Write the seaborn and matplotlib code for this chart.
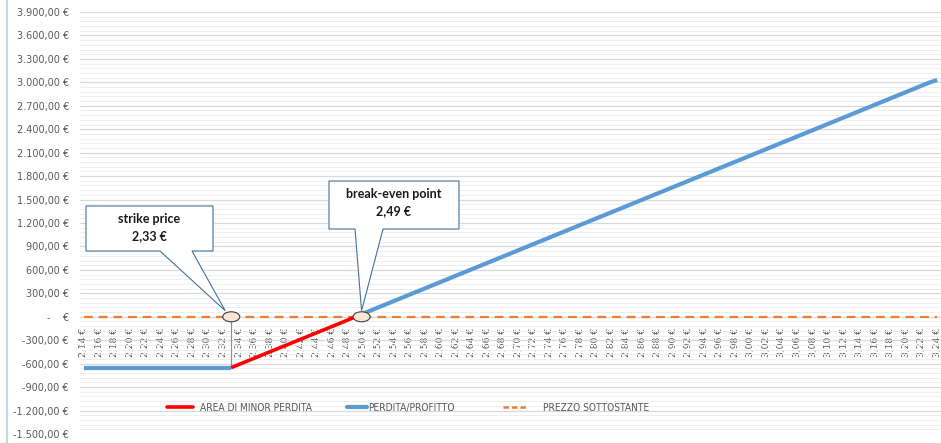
import numpy as np
import pandas as pd
import matplotlib
matplotlib.use("Agg")
import matplotlib.pyplot as plt
import seaborn as sns
from matplotlib.patches import Ellipse, Polygon
from matplotlib.lines import Line2D
from matplotlib.transforms import Affine2D
from matplotlib.ticker import MultipleLocator, FuncFormatter, FixedLocator

# ---------------- data ----------------
prices = np.round(np.arange(2.14, 3.245, 0.01), 2)   # category axis 2,14 € ... 3,24 €
profit = ([-650] * 20 +
          [-610, -569, -529, -488, -448, -407, -367, -326, -286, -245, -205, -164, -124, -83, -43] +
          [0, 41, 81, 122, 162, 203, 243, 284, 324, 365,
           405, 446, 486, 527, 567, 608, 648, 689, 729, 770,
           810, 851, 891, 932, 972, 1013, 1053, 1094, 1134, 1175,
           1215, 1256, 1296, 1337, 1377, 1418, 1458, 1499, 1539, 1580,
           1620, 1661, 1701, 1742, 1782, 1823, 1863, 1904, 1944, 1985,
           2025, 2066, 2106, 2147, 2187, 2228, 2268, 2309, 2349, 2390,
           2430, 2471, 2511, 2552, 2592, 2633, 2673, 2714, 2754, 2795,
           2835, 2876, 2916, 2957, 2997, 3030])
underlying = [0] * len(prices)
strike = 2.33
breakeven = 2.49
breakeven_marker = 2.498
series_names = ["AREA DI MINOR PERDITA", "PERDITA/PROFITTO", "PREZZO SOTTOSTANTE"]
callout_texts = [("strike price", "2,33 €"), ("break-even point", "2,49 €")]

# ---------------- styling ----------------
W, H = 941, 443
sns.set_theme(style="white")
plt.rcParams["font.family"] = ["DejaVu Sans"]
TXT = "#595959"
BLUE = "#5B9BD5"
RED = "#FF0000"
ORANGE = "#ED7D31"

fig = plt.figure(figsize=(W / 100, H / 100), dpi=100)
fig.patch.set_facecolor("white")
ax = fig.add_axes([80 / W, (H - 434) / H, (W - 80) / W, (434 - 12) / H])
ax.set_facecolor("white")

df = pd.DataFrame({"price": prices, "profit": profit, "under": underlying})
df["idx"] = np.arange(len(df))
i_strike = int(np.argmin(np.abs(prices - strike)))
i_be = int(np.argmin(np.abs(prices - breakeven)))

# grid
ax.set_ylim(-1500, 3900)
ax.set_xlim(-0.5, len(prices) - 0.5)
ax.yaxis.set_major_locator(MultipleLocator(300))
ax.yaxis.set_minor_locator(MultipleLocator(60))
ax.grid(which="major", axis="y", color="#D9D9D9", lw=0.9, zorder=0)
ax.grid(which="minor", axis="y", color="#EFEFEF", lw=0.7, zorder=0)
ax.grid(which="major", axis="x", visible=False)
ax.set_axisbelow(True)

# orange dashed underlying line
sns.lineplot(data=df, x="idx", y="under", ax=ax, color=ORANGE, lw=1.6,
             linestyle=(0, (4.0, 2.6)), errorbar=None, legend=False, zorder=3)
# blue profit segments
seg1 = df[df["idx"] <= i_strike]
seg2 = df[df["idx"] >= i_be]
for seg in (seg1, seg2):
    sns.lineplot(data=seg, x="idx", y="profit", ax=ax, color=BLUE, lw=3.0,
                 errorbar=None, legend=False, zorder=4, solid_capstyle="butt")
# red zone
seg_red = df[(df["idx"] >= i_strike) & (df["idx"] <= i_be)]
sns.lineplot(data=seg_red, x="idx", y="profit", ax=ax, color=RED, lw=2.6,
             errorbar=None, legend=False, zorder=5, solid_capstyle="butt")
# thin drop line at strike
ax.plot([i_strike, i_strike], [0, df.loc[i_strike, "profit"]], color=BLUE, lw=0.8, zorder=4)

# ticks
ax.spines[["top", "right", "left"]].set_visible(False)
ax.spines["bottom"].set_position(("data", 0))
ax.spines["bottom"].set_visible(False)
xt = df["idx"].values[::2]
ax.xaxis.set_major_locator(FixedLocator(xt))
ax.set_xticklabels([f"{p:.2f}".replace(".", ",") + " €" for p in prices[::2]],
                   rotation=90, fontsize=6.6, color=TXT)
ax.tick_params(axis="x", length=0, pad=8)
ax.tick_params(axis="y", which="both", length=0, pad=8, labelsize=7, labelcolor=TXT)


def yfmt(v, pos):
    if abs(v) < 1e-9:
        return "-    €"
    s = f"{v:,.2f}".replace(",", "X").replace(".", ",").replace("X", ".")
    return s + " €"


ax.yaxis.set_major_formatter(FuncFormatter(yfmt))
ax.set_xlabel("")
ax.set_ylabel("")

# ellipse markers (data coords)
ppx = (ax.transData.transform((1, 0))[0] - ax.transData.transform((0, 0))[0])
ppy = (ax.transData.transform((0, 0))[1] - ax.transData.transform((0, 1))[1])
ew, eh = 17 / ppx, 10 / abs(ppy)
i_bem = (breakeven_marker - prices[0]) / 0.01
for xx in (i_strike, i_bem):
    ax.add_patch(Ellipse((xx, 0), ew, eh, facecolor="#FBE5D6", edgecolor="#404040",
                         lw=0.8, zorder=7))

# pixel transform (top-left origin)
P = Affine2D().scale(1, -1).translate(0, H)


def d2p(x, y):
    dx, dy = ax.transData.transform((x, y))
    return dx, H - dy


def callout(L, T, R, B, w1, w2, tip, lines, c1, c2):
    pts = [(L, T), (R, T), (R, B), (w2, B), tip, (w1, B), (L, B)]
    fig.add_artist(Polygon(pts, closed=True, transform=P, facecolor="white",
                           edgecolor="#41719C", lw=0.8, zorder=10))
    cx = (L + R) / 2
    for txt, cy in ((lines[0], c1), (lines[1], c2)):
        fig.text(cx, H - cy, txt, transform=None, ha="center", va="center",
                 fontsize=9, fontweight="bold", family=["Lato", "DejaVu Sans"],
                 color="#1a1a1a", zorder=11)


sx, sy = d2p(i_strike, 0)
bx, by = d2p(i_bem, 0)
callout(86, 206, 213, 251, 160, 192, (sx - 6, sy - 6), callout_texts[0], 219, 236)
callout(329, 181, 459, 229, 355, 383, (bx, by - 6), callout_texts[1], 194, 211)

# legend: one entry per legend box, placed like the reference
leg_font = {"family": ["DejaVu Sans"], "stretch": "condensed", "size": 7.3}
entries = [
    (Line2D([], [], color=RED, lw=2.6), series_names[0], 167, 2.6, 0.65),
    (Line2D([], [], color=BLUE, lw=3.0), series_names[1], 347, 2.0, 0.1),
    (Line2D([], [], color=ORANGE, lw=1.8, linestyle=(0, (2.2, 1.2))), series_names[2], 503, 2.4, 1.5),
]
for h, lab, x0, hl, tp in entries:
    lg = fig.legend([h], [lab], loc="center left", bbox_to_anchor=(x0 / W, (H - 408) / H),
                    frameon=False, prop=leg_font, handlelength=hl, handletextpad=tp,
                    borderpad=0, borderaxespad=0)
    for t in lg.get_texts():
        t.set_color(TXT)

# left border line
fig.add_artist(Line2D([7, 7], [0, H], transform=P, color="#BDD7EE", lw=1.5))

fig.savefig("out.png", dpi=100)
